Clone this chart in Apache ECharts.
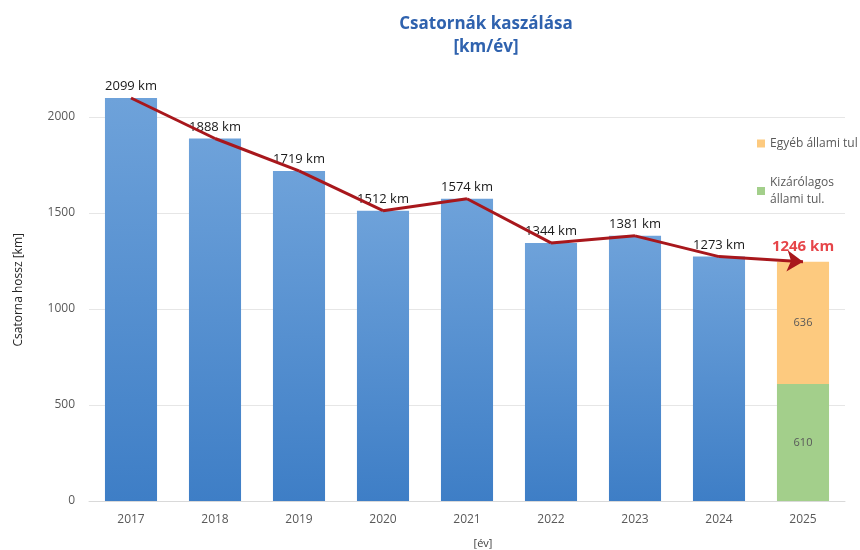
<!DOCTYPE html>
<html><head><meta charset="utf-8">
<script src="https://cdn.jsdelivr.net/npm/echarts@6/dist/echarts.min.js"></script>
<style>html,body{margin:0;padding:0;background:#fff}#c{width:860px;height:550px}</style>
</head><body><div id="c"></div>
<script>
var years = ['2017','2018','2019','2020','2021','2022','2023','2024','2025'];
var totals = [2099, 1888, 1719, 1512, 1574, 1344, 1381, 1273, 1246];
var pastValues = [2099, 1888, 1719, 1512, 1574, 1344, 1381, 1273, '-'];
var stateOnly = ['-', '-', '-', '-', '-', '-', '-', '-', 610];
var otherState = ['-', '-', '-', '-', '-', '-', '-', '-', 636];
var yTicks = [0, 500, 1000, 1500, 2000];
var nameOther = 'Egyéb állami tul';
var nameState = 'Kizárólagos\nállami tul.';

var chart = echarts.init(document.getElementById('c'));
var font = 'Open Sans, Liberation Sans, sans-serif';
var segs = [];
for (var i = 0; i < totals.length - 2; i++) {
  segs.push({coords: [[i, totals[i]], [i + 1, totals[i + 1]]]});
}
var n = totals.length;
var lastSeg = [{coords: [[n - 2, totals[n - 2]], [n - 1, totals[n - 1]]]}];
var lineStyle = {color: '#a8171c', width: 3, opacity: 1};

chart.setOption({
  animation: false,
  textStyle: {fontFamily: font},
  title: {
    text: 'Csatornák kaszálása\n[km/év]',
    left: 481, top: 8, textAlign: 'center',
    textStyle: {color: '#2f62ae', fontSize: 17, fontWeight: 'bold', lineHeight: 23, fontFamily: font}
  },
  legend: {
    orient: 'vertical', left: 752, top: 130, itemWidth: 8, itemHeight: 8, itemGap: 22,
    icon: 'rect',
    data: [nameOther, nameState],
    textStyle: {color: '#595959', fontSize: 12, lineHeight: 17, fontFamily: font}
  },
  grid: {left: 89, right: 15, top: 78.6, bottom: 49, outerBoundsMode: 'none', containLabel: false},
  xAxis: {
    type: 'category', data: years,
    axisLine: {lineStyle: {color: '#d9d9d9'}},
    axisTick: {show: false},
    axisLabel: {color: '#595959', fontSize: 12, margin: 13},
    name: '[év]', nameLocation: 'middle', nameGap: 37,
    nameTextStyle: {color: '#404040', fontSize: 11, padding: [0, 0, 0, 32]}
  },
  yAxis: {
    type: 'value', min: 0, max: 2200, interval: 500,
    axisLine: {show: false}, axisTick: {show: false},
    axisLabel: {color: '#595959', fontSize: 12, margin: 14, showMaxLabel: false,
      formatter: function(v){ return yTicks.indexOf(v) >= 0 ? String(v) : ''; }},
    splitLine: {lineStyle: {color: '#e6e6e6'}, showMaxLine: false},
    name: 'Csatorna hossz [km]', nameLocation: 'middle', nameGap: 64,
    nameTextStyle: {color: '#262626', fontSize: 12}
  },
  series: [
    {
      type: 'bar', name: 'Összes', stack: 's', barWidth: '62%', data: pastValues,
      itemStyle: {color: new echarts.graphic.LinearGradient(0, 0, 0, 1, [
        {offset: 0, color: '#6ea2da'}, {offset: 1, color: '#3e7ec6'}])},
      label: {show: true, position: 'top', distance: 5, color: '#1a1a1a', fontSize: 13,
        formatter: function(p){ return p.value + ' km'; }}
    },
    {
      type: 'bar', name: nameState, stack: 's', barWidth: '62%', data: stateOnly,
      itemStyle: {color: '#a3cf8b'},
      label: {show: true, position: 'inside', color: '#595959', fontSize: 11}
    },
    {
      type: 'bar', name: nameOther, stack: 's', barWidth: '62%', data: otherState,
      itemStyle: {color: '#fdca7f'},
      label: {show: true, position: 'inside', color: '#595959', fontSize: 11}
    },
    {
      type: 'lines', coordinateSystem: 'cartesian2d', z: 5,
      symbol: ['none', 'none'],
      lineStyle: lineStyle,
      data: segs
    },
    {
      type: 'lines', coordinateSystem: 'cartesian2d', z: 5,
      symbol: ['none', 'arrow'], symbolSize: 16,
      lineStyle: lineStyle,
      data: lastSeg
    },
    {
      type: 'scatter', symbolSize: 0, z: 6,
      data: [[8, totals[8]]],
      label: {show: true, position: 'top', distance: 8, color: '#e0161b', fontSize: 15, fontWeight: 'bold',
        formatter: function(p){ return p.value[1] + ' km'; }}
    }
  ]
});
</script></body></html>
